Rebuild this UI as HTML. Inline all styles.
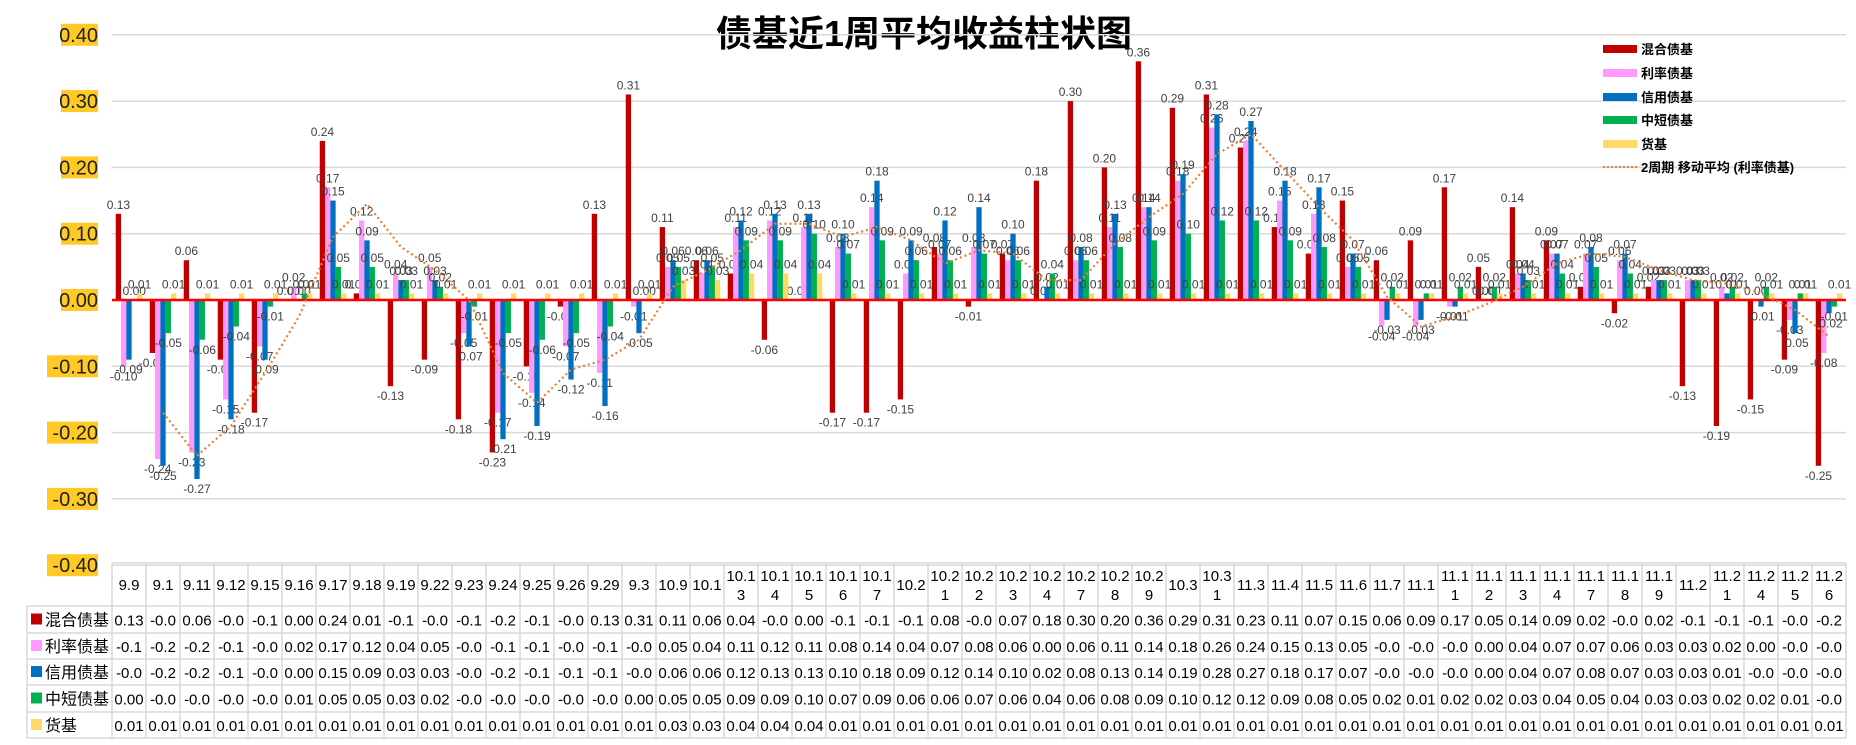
<!DOCTYPE html>
<html><head><meta charset="utf-8">
<style>
body{margin:0;background:#fff;width:1856px;height:745px;overflow:hidden;font-family:"Liberation Sans","Noto Sans CJK SC",sans-serif}
svg{position:absolute;left:0;top:0}
</style></head>
<body>
<svg id="c" width="1856" height="745"></svg>
<script>
const categories=["9.9","9.1","9.11","9.12","9.15","9.16","9.17","9.18","9.19","9.22","9.23","9.24","9.25","9.26","9.29","9.3","10.9","10.1","10.13","10.14","10.15","10.16","10.17","10.2","10.21","10.22","10.23","10.24","10.27","10.28","10.29","10.3","10.31","11.3","11.4","11.5","11.6","11.7","11.1","11.11","11.12","11.13","11.14","11.17","11.18","11.19","11.2","11.21","11.24","11.25","11.26"];
const mixed=[0.13,-0.08,0.06,-0.09,-0.17,0.00,0.24,0.01,-0.13,-0.09,-0.18,-0.23,-0.10,-0.01,0.13,0.31,0.11,0.06,0.04,-0.06,0.00,-0.17,-0.17,-0.15,0.08,-0.01,0.07,0.18,0.30,0.20,0.36,0.29,0.31,0.23,0.11,0.07,0.15,0.06,0.09,0.17,0.05,0.14,0.09,0.02,-0.02,0.02,-0.13,-0.19,-0.15,-0.09,-0.25];
const rate=[-0.10,-0.24,-0.23,-0.15,-0.07,0.02,0.17,0.12,0.04,0.05,-0.05,-0.17,-0.14,-0.07,-0.11,-0.01,0.05,0.04,0.11,0.12,0.11,0.08,0.14,0.04,0.07,0.08,0.06,0.00,0.06,0.11,0.14,0.18,0.26,0.24,0.15,0.13,0.05,-0.04,-0.04,-0.01,0.00,0.04,0.07,0.07,0.06,0.03,0.03,0.02,0.00,-0.03,-0.08];
const credit=[-0.09,-0.25,-0.27,-0.18,-0.09,0.00,0.15,0.09,0.03,0.03,-0.07,-0.21,-0.19,-0.12,-0.16,-0.05,0.06,0.06,0.12,0.13,0.13,0.10,0.18,0.09,0.12,0.14,0.10,0.02,0.08,0.13,0.14,0.19,0.28,0.27,0.18,0.17,0.07,-0.03,-0.03,-0.01,0.00,0.04,0.07,0.08,0.07,0.03,0.03,0.01,-0.01,-0.05,-0.02];
const shortb=[0.00,-0.05,-0.06,-0.04,-0.01,0.01,0.05,0.05,0.03,0.02,-0.01,-0.05,-0.06,-0.05,-0.04,0.00,0.05,0.05,0.09,0.09,0.10,0.07,0.09,0.06,0.06,0.07,0.06,0.04,0.06,0.08,0.09,0.10,0.12,0.12,0.09,0.08,0.05,0.02,0.01,0.02,0.02,0.03,0.04,0.05,0.04,0.03,0.03,0.02,0.02,0.01,-0.01];
const money=[0.01,0.01,0.01,0.01,0.01,0.01,0.01,0.01,0.01,0.01,0.01,0.01,0.01,0.01,0.01,0.01,0.03,0.03,0.04,0.04,0.04,0.01,0.01,0.01,0.01,0.01,0.01,0.01,0.01,0.01,0.01,0.01,0.01,0.01,0.01,0.01,0.01,0.01,0.01,0.01,0.01,0.01,0.01,0.01,0.01,0.01,0.01,0.01,0.01,0.01,0.01];
const yTicks=[0.4,0.3,0.2,0.1,0,-0.1,-0.2,-0.3,-0.4];
const seriesNames=["混合债基","利率债基","信用债基","中短债基","货基"];
const colors=["#C00000","#FF99FF","#0070C0","#00B050","#FFD966"];
const series=[mixed,rate,credit,shortb,money];

const NS="http://www.w3.org/2000/svg";
const svg=document.getElementById('c');
const L=112,R=1846,Y0=300,UNIT=663;
const cw=(R-L)/categories.length, bw=5.3, off=(cw-5*bw)/2;
const y=v=>Y0-v*UNIT;
const xc=i=>L+i*cw;
function el(t,a,p){const e=document.createElementNS(NS,t);for(const k in a)e.setAttribute(k,a[k]);(p||svg).appendChild(e);return e;}

let t=el('text',{x:924,y:46,'text-anchor':'middle','font-size':36,'font-weight':'bold',fill:'#000'});
t.textContent='债基近1周平均收益柱状图';



yTicks.forEach(v=>{
  const gy=y(v);
  if(v!==0){const g=el('line',{x1:L,x2:R,y1:gy,y2:gy,stroke:'#d9d9d9','stroke-width':1.5});
  
  }
  const s=(v<0?'-':'')+Math.abs(v).toFixed(2);
  const bg=el('rect',{x:v<0?47:61,y:gy-11,width:v<0?51:37,height:22,fill:'#FFC926'});
  
  
  const tx=el('text',{x:98,y:gy+7,'text-anchor':'end','font-size':20,fill:'#222'});
  tx.textContent=s;
  
  
});

series.forEach((arr,si)=>{
  arr.forEach((v,i)=>{
    const x=xc(i)+off+si*bw;
    const top=Math.min(y(v),Y0),h=Math.max(Math.abs(y(v)-Y0),v===0?0:1);
    const b=el('rect',{x:x,y:top,width:bw,height:h,fill:colors[si]});
    
    
    const lb=el('text',{x:x+bw/2,y:v>=0?y(v)-5:y(v)+14,'text-anchor':'middle','font-size':12,fill:'#404040'});
    lb.textContent=v.toFixed(2);
    
    
  });
});
const z=el('line',{x1:L,x2:R,y1:Y0,y2:Y0,stroke:'#FF0000','stroke-width':2.5});



let pts=[];
for(let i=1;i<rate.length;i++){pts.push((xc(i)+cw/2)+','+y((rate[i]+rate[i-1])/2));}
const ma=el('polyline',{points:pts.join(' '),fill:'none',stroke:'#ED7D31','stroke-width':2.2,'stroke-dasharray':'2 3'});



const legY=[49,73,97,120,144,167];
seriesNames.forEach((n,i)=>{
  const r=el('rect',{x:1603,y:legY[i]-4,width:34,height:8,fill:colors[i]});
  
  
  const tx=el('text',{x:1641,y:legY[i]+5,'font-size':13,'font-weight':'bold',fill:'#000'});
  tx.textContent=n;
  
  
});
const ml=el('line',{x1:1603,x2:1637,y1:legY[5],y2:legY[5],stroke:'#ED7D31','stroke-width':2,'stroke-dasharray':'2 2'});


const mt=el('text',{x:1641,y:legY[5]+5,'font-size':13,'font-weight':'bold',fill:'#000'});
mt.textContent='2周期 移动平均 (利率债基)';



const rowsY=[563,606,633,659,685,712,738];
const gc='#d9d9d9';
function line(x1,y1,x2,y2){const l=el('line',{x1,y1,x2,y2,stroke:gc,'stroke-width':1.5});

}
line(L,563,R,563);
for(let r=1;r<rowsY.length;r++)line(27,rowsY[r],R,rowsY[r]);
line(27,606,27,738);
for(let i=0;i<=categories.length;i++)line(xc(i),563,xc(i),738);
categories.forEach((c,i)=>{
  const cx=xc(i)+cw/2;
  if(c.length<=4){
    const tx=el('text',{x:cx,y:590,'text-anchor':'middle','font-size':15,fill:'#000'});
    tx.textContent=c;
    
    
  }else{
    const tx=el('text',{x:cx,'text-anchor':'middle','font-size':15,fill:'#000'});
    
    
    const a=el('tspan',{x:cx,y:581},tx);a.textContent=c.slice(0,4);
    const b=el('tspan',{x:cx,y:600},tx);b.textContent=c.slice(4);
  }
});
series.forEach((arr,si)=>{
  const ry=(rowsY[si+1]+rowsY[si+2])/2;
  const sw=el('rect',{x:31,y:ry-6,width:11,height:11,fill:colors[si]});
  
  
  const nm=el('text',{x:45,y:ry+6,'font-size':16,fill:'#000'});
  nm.textContent=seriesNames[si];
  
  
  arr.forEach((v,i)=>{
    const s=v.toFixed(2).slice(0,4);
    const tx=el('text',{x:xc(i)+cw/2,y:ry+6,'text-anchor':'middle','font-size':15,fill:'#000'});
    tx.textContent=v<0?s:v.toFixed(2);
    
    
  });
});
</script>
</body></html>
